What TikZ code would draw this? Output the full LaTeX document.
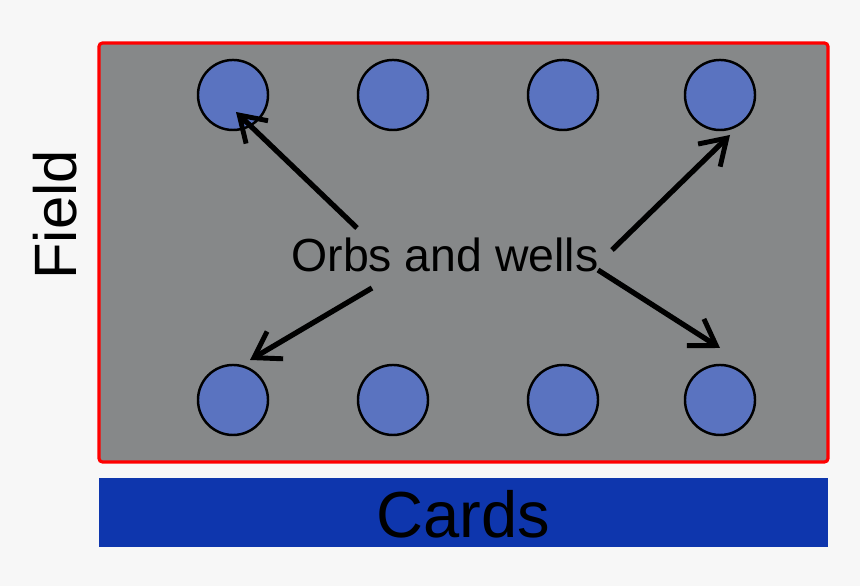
\documentclass[tikz,border=0pt]{standalone}
\usepackage{fontspec}
\setmainfont{Liberation Sans}
\usetikzlibrary{arrows.meta}
\definecolor{bg}{HTML}{F7F7F7}
\definecolor{fieldc}{HTML}{868889}
\definecolor{orbc}{HTML}{5A73C0}
\definecolor{cardc}{HTML}{0E36AD}
\tikzset{
 orb/.style={circle,draw=black,line width=0.7pt,fill=orbc,minimum size=70*0.2845pt,inner sep=0pt},
 arr/.style={line width=1.5pt,-{Straight Barb[length=7pt,width=9pt,line width=1.4pt]}}
}
\begin{document}
\begin{tikzpicture}[x=0.01cm,y=-0.01cm]
\useasboundingbox (0,0) rectangle (860,586);
\fill[bg] (0,0) rectangle (860,586);
\draw[red,line width=0.9pt,fill=fieldc,rounded corners=1pt] (99,43) rectangle (828,462);
\fill[cardc] (99,478) rectangle (828,547);
\node[font=\fontsize{18.5}{20}\selectfont] (cards) at (463,514) {Cards};
\node[font=\fontsize{17}{19}\selectfont,rotate=90] (field) at (55,215) {Field};
\foreach \i/\x in {1/233,2/393,3/563,4/720}{
 \node[orb] (t\i) at (\x,95) {};
 \node[orb] (b\i) at (\x,400) {};
}
\node[font=\fontsize{13.2}{15}\selectfont] (txt) at (445,255) {Orbs and wells};
\coordinate (s1) at (357,228); \coordinate (s2) at (612,250);
\coordinate (s3) at (372,288); \coordinate (s4) at (598,270);
\coordinate (e1) at (236,112); \coordinate (e2) at (730,135);
\coordinate (e3) at (250,360); \coordinate (e4) at (720,348);
\draw[arr] (s1) -- (e1);
\draw[arr] (s2) -- (e2);
\draw[arr] (s3) -- (e3);
\draw[arr] (s4) -- (e4);
\end{tikzpicture}
\end{document}
